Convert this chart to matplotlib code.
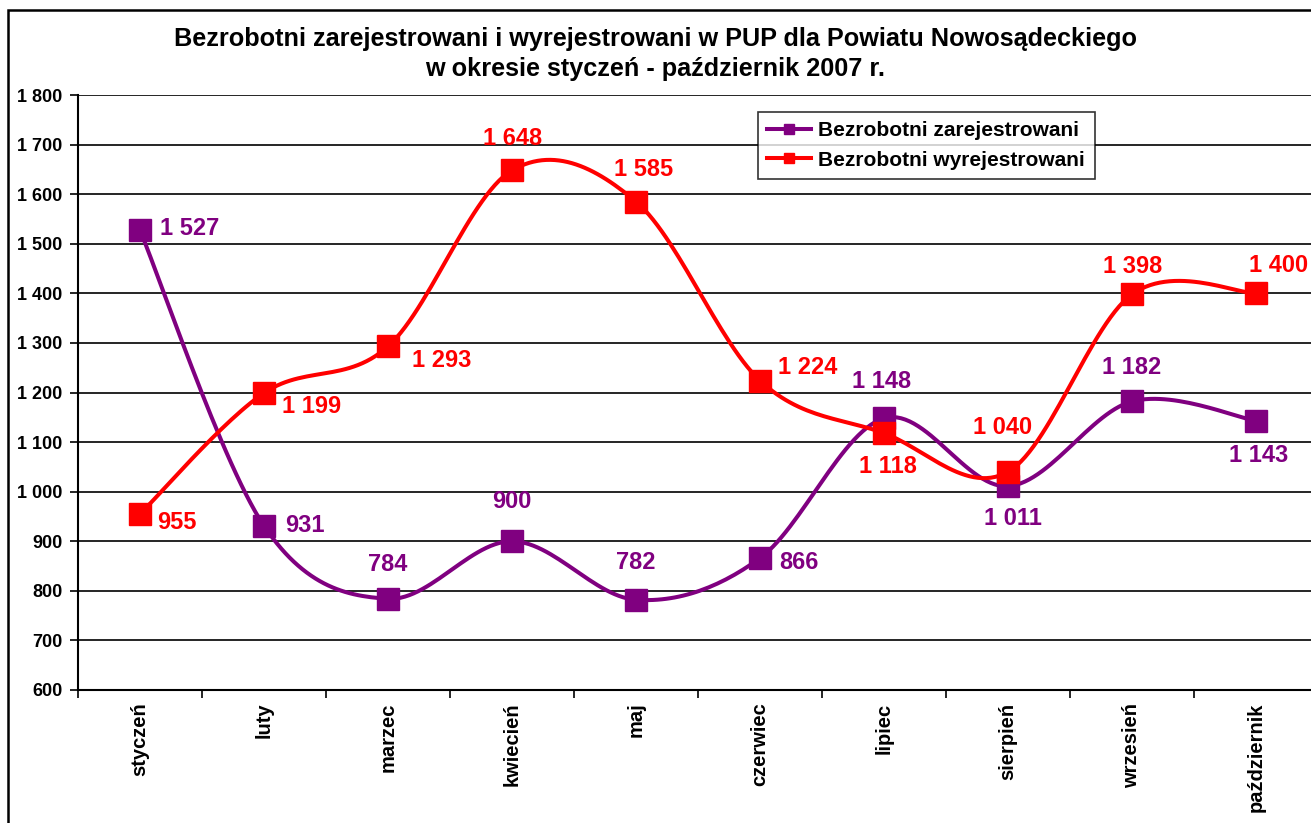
import numpy as np
import matplotlib.pyplot as plt
from matplotlib.patches import Rectangle

plt.rcParams["font.family"] = ["Liberation Sans", "DejaVu Sans"]
plt.rcParams["font.weight"] = "bold"

# DATA
months = ["styczeń", "luty", "marzec", "kwiecień", "maj",
          "czerwiec", "lipiec", "sierpień", "wrzesień", "październik"]
zarejestrowani = [1527, 931, 784, 900, 782, 866, 1148, 1011, 1182, 1143]
wyrejestrowani = [955, 1199, 1293, 1648, 1585, 1224, 1118, 1040, 1398, 1400]

title = ("Bezrobotni zarejestrowani i wyrejestrowani w PUP dla Powiatu Nowosądeckiego\n"
         "w okresie styczeń - październik 2007 r.")

PURPLE = "#800080"
RED = "#ff0000"

# label offsets in pixels (dx, dy, ha)
off_zar = [(20, 2, "left"), (21, 0, "left"), (0, 34, "center"), (0, 40, "center"),
           (0, 37, "center"), (19, -4, "left"), (-2, 37, "center"), (5, -32, "center"),
           (0, 34, "center"), (3, -35, "center")]
off_wyr = [(17, -9, "left"), (18, -14, "left"), (24, -14, "left"), (1, 32, "center"),
           (8, 32, "center"), (18, 13, "left"), (4, -33, "center"), (-5, 44, "center"),
           (1, 28, "center"), (23, 28, "center")]


def smooth(y, n=30):
    # Excel-style smoothed line (uniform Catmull-Rom / Bezier)
    x = np.arange(len(y), dtype=float)
    y = np.asarray(y, dtype=float)
    px = np.concatenate([[x[0]], x, [x[-1]]])
    py = np.concatenate([[y[0]], y, [y[-1]]])
    xs, ys = [], []
    t = np.linspace(0, 1, n)
    for i in range(1, len(px) - 2):
        b0x, b0y = px[i], py[i]
        b3x, b3y = px[i + 1], py[i + 1]
        b1x = b0x + (px[i + 1] - px[i - 1]) / 6
        b1y = b0y + (py[i + 1] - py[i - 1]) / 6
        b2x = b3x - (px[i + 2] - px[i]) / 6
        b2y = b3y - (py[i + 2] - py[i]) / 6
        bx = (1 - t) ** 3 * b0x + 3 * (1 - t) ** 2 * t * b1x + 3 * (1 - t) * t ** 2 * b2x + t ** 3 * b3x
        by = (1 - t) ** 3 * b0y + 3 * (1 - t) ** 2 * t * b1y + 3 * (1 - t) * t ** 2 * b2y + t ** 3 * b3y
        xs.append(bx)
        ys.append(by)
    return np.concatenate(xs), np.concatenate(ys)


W, H = 1311, 823
fig = plt.figure(figsize=(W / 100, H / 100), dpi=100)
ax = fig.add_axes([78 / W, (H - 690) / H, (1318 - 78) / W, (690 - 95) / H])

# outer chart border
fig.patches.append(Rectangle((8 / W, -0.1), 1.2, (H - 10) / H + 0.1, transform=fig.transFigure,
                             fill=False, edgecolor="black", linewidth=1.8))

x = np.arange(len(months))
for vals, color, label in [(zarejestrowani, PURPLE, "Bezrobotni zarejestrowani"),
                           (wyrejestrowani, RED, "Bezrobotni wyrejestrowani")]:
    sx, sy = smooth(vals)
    ax.plot(sx, sy, color=color, linewidth=2.9, zorder=3, solid_capstyle="round")
    ax.plot(x, vals, linestyle="none", marker="s", markersize=15.5, color=color, zorder=4)
    ax.plot([], [], color=color, linewidth=2.9, marker="s", markersize=7, label=label)

for vals, offs, color in [(zarejestrowani, off_zar, PURPLE), (wyrejestrowani, off_wyr, RED)]:
    for i, v in enumerate(vals):
        dx, dy, ha = offs[i]
        ax.annotate(f"{v:,}".replace(",", " "), (i, v), xytext=(dx, dy),
                    textcoords="offset pixels", ha=ha, va="center",
                    color=color, fontsize=17, fontweight="bold", zorder=5)

ax.set_xlim(-0.5, 9.5)
ax.set_ylim(600, 1800)
ax.set_yticks(range(600, 1801, 100))
ax.set_yticklabels([f"{v:,}".replace(",", " ") for v in range(600, 1801, 100)],
                   fontsize=13, fontweight="bold")
ax.yaxis.grid(True, color="black", linewidth=1.2)
ax.set_axisbelow(True)
ax.tick_params(axis="y", length=6, width=1.2, pad=5)

ax.set_xticks(x)
ax.set_xticklabels(months, rotation=90, fontsize=14.5, fontweight="bold", va="top")
ax.set_xticks(np.arange(-0.5, 10, 1), minor=True)
ax.tick_params(axis="x", which="major", length=0, pad=9)
ax.tick_params(axis="x", which="minor", length=6, width=1.2)

for s in ["top", "right"]:
    ax.spines[s].set_visible(False)
for s in ["left", "bottom"]:
    ax.spines[s].set_linewidth(1.5)

fig.text(655 / W, 1 - 54 / H, title, ha="center", va="center", fontsize=18.2,
         fontweight="bold", linespacing=1.35)

leg = ax.legend(loc="upper left", bbox_to_anchor=(758 / W, 1 - 112 / H),
                bbox_transform=fig.transFigure, frameon=True, fancybox=False,
                fontsize=15, handlelength=2.1, borderpad=0.45, labelspacing=0.5,
                handletextpad=0.35, borderaxespad=0)
leg.get_frame().set_edgecolor("black")
leg.get_frame().set_linewidth(1.2)
for t in leg.get_texts():
    t.set_fontweight("bold")

fig.savefig("out.png", dpi=100)
